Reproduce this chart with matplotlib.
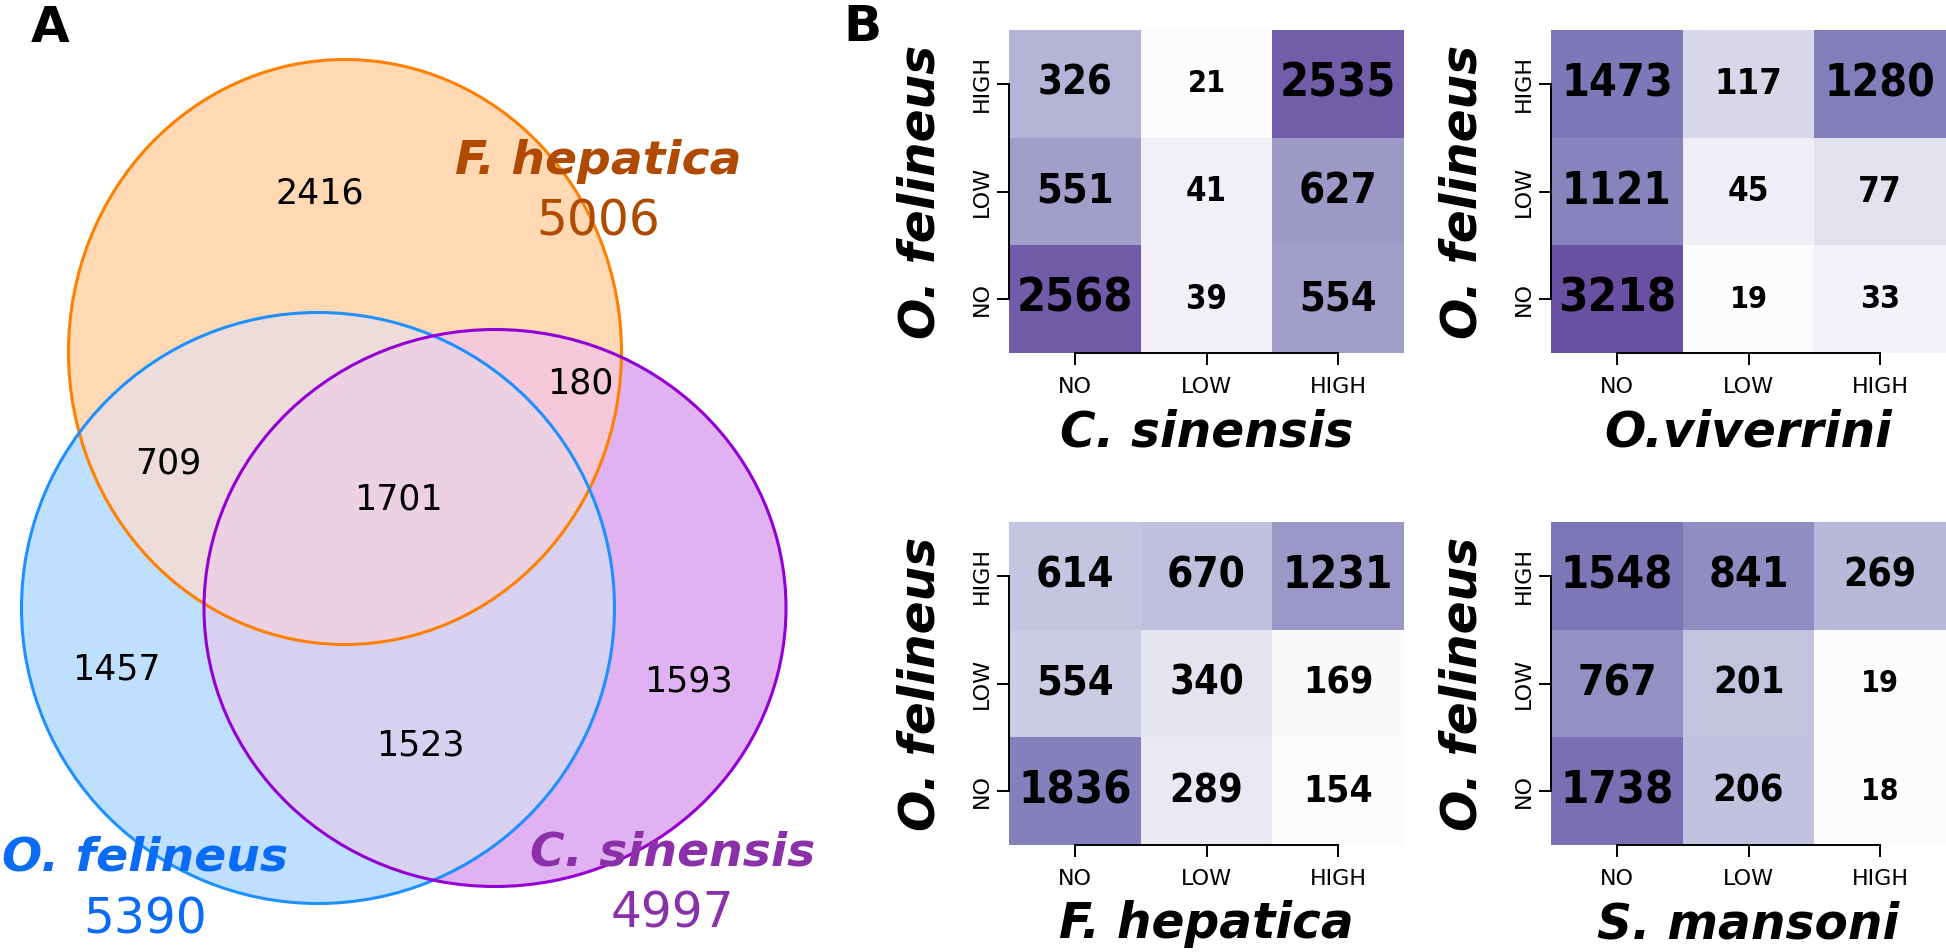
import numpy as np
import matplotlib
matplotlib.use("Agg")
import matplotlib.pyplot as plt
from matplotlib.patches import Ellipse, Polygon
from matplotlib.colors import LogNorm, ListedColormap
from matplotlib import font_manager

# panel A: venn counts
set_keys = ["F", "O", "C"]
set_names = ["F. hepatica", "O. felineus", "C. sinensis"]
set_totals = [5006, 5390, 4997]
region_keys = ["F", "O", "C", "FO", "FC", "OC", "FOC"]
region_counts = [2416, 1457, 1593, 709, 180, 1523, 1701]

# panel B: O. felineus level (rows NO, LOW, HIGH) vs other species (cols NO, LOW, HIGH)
levels = ["NO", "LOW", "HIGH"]
species = ["C. sinensis", "O.viverrini", "F. hepatica", "S. mansoni"]
csin = [[2568, 39, 554], [551, 41, 627], [326, 21, 2535]]
oviv = [[3218, 19, 33], [1121, 45, 77], [1473, 117, 1280]]
fhep = [[1836, 289, 154], [554, 340, 169], [614, 670, 1231]]
sman = [[1738, 206, 18], [767, 201, 19], [1548, 841, 269]]

W, H = 1946, 952
fig = plt.figure(figsize=(W / 100, H / 100), dpi=100)

# ---------------- venn (pixel coordinates) ----------------
ax = fig.add_axes([0, 0, 800 / W, 1])
ax.set_xlim(0, 800)
ax.set_ylim(H, 0)
ax.axis("off")

ell = {"F": (345, 352, 553, 585), "O": (318, 608, 593, 591), "C": (495, 608, 582, 557)}
edge_col = {"F": "#ff8000", "O": "#1e90ff", "C": "#9400d3"}
text_col = {"F": "#b04a00", "O": "#0a6cf5", "C": "#8a30a8"}
fill_col = {"F": "#ffd9b3", "O": "#bfdfff", "C": "#e0b2f2", "FO": "#eedcda",
            "FC": "#f5c9d9", "OC": "#d8d0f0", "FOC": "#ecd1e3"}


def inside(k, x, y):
    cx, cy, w, h = ell[k]
    return ((x - cx) / (w / 2)) ** 2 + ((y - cy) / (h / 2)) ** 2 <= 1 + 1e-9


def overlap(keys, n=1500):
    xs, ys = [], []
    t = np.linspace(0, 2 * np.pi, n, endpoint=False)
    for k in keys:
        cx, cy, w, h = ell[k]
        xs.append(cx + w / 2 * np.cos(t))
        ys.append(cy + h / 2 * np.sin(t))
    x = np.concatenate(xs)
    y = np.concatenate(ys)
    keep = np.ones_like(x, dtype=bool)
    for k in keys:
        keep &= inside(k, x, y)
    x, y = x[keep], y[keep]
    order = np.argsort(np.arctan2(y - y.mean(), x - x.mean()))
    return np.column_stack([x[order], y[order]])


for k in set_keys:
    cx, cy, w, h = ell[k]
    ax.add_patch(Ellipse((cx, cy), w, h, facecolor=fill_col[k], edgecolor="none"))
for k in ["FO", "FC", "OC", "FOC"]:
    ax.add_patch(Polygon(overlap(list(k)), closed=True, facecolor=fill_col[k],
                         edgecolor="none"))
for k in set_keys:
    cx, cy, w, h = ell[k]
    ax.add_patch(Ellipse((cx, cy), w, h, fill=False, edgecolor=edge_col[k], lw=2.2))

region_pos = {"F": (320, 193), "FC": (580, 383), "FO": (168, 463), "FOC": (398, 499),
              "O": (116, 670), "C": (688, 682), "OC": (420, 746)}
for k, c in zip(region_keys, region_counts):
    ax.text(*region_pos[k], str(c), ha="center", va="center", fontsize=25)

name_pos = {"F": (598, 162), "O": (145, 858), "C": (673, 853)}
total_pos = {"F": (598, 222), "O": (145, 920), "C": (672, 914)}
for k, name, tot in zip(set_keys, set_names, set_totals):
    ax.text(*name_pos[k], name, ha="center", va="center", fontsize=34,
            fontweight="bold", fontstyle="italic", color=text_col[k])
    ax.text(*total_pos[k], str(tot), ha="center", va="center", fontsize=35,
            color=text_col[k])

fig.text(50 / W, 1 - 28 / H, "A", ha="center", va="center", fontsize=36, fontweight="bold")
fig.text(862 / W, 1 - 27 / H, "B", ha="center", va="center", fontsize=36, fontweight="bold")

# ---------------- heatmaps ----------------
fonts = font_manager.fontManager.ttflist
if any(f.name == "Liberation Sans Narrow" for f in fonts):
    num_font, num_stretch, num_scale = "Liberation Sans Narrow", "normal", 1.0
elif any(f.name == "DejaVu Sans" and f.stretch == "condensed" and f.weight == 700
         for f in fonts):
    num_font, num_stretch, num_scale = "DejaVu Sans", "condensed", 0.92
else:
    num_font, num_stretch, num_scale = "DejaVu Sans", "normal", 0.8

mats = [np.array(m) for m in (csin, oviv, fhep, sman)]
gmax = max(m.max() for m in mats)
cmap = ListedColormap(plt.cm.Purples(np.linspace(0, 0.75, 256)))
corners = [(1009, 30), (1551, 30), (1009, 522), (1551, 522)]
aw, ah = 395, 323

for m, sp, (x0, y0) in zip(mats, species, corners):
    hx = fig.add_axes([x0 / W, 1 - (y0 + ah) / H, aw / W, ah / H])
    hx.pcolormesh(np.arange(4), np.arange(4), m, cmap=cmap,
                  norm=LogNorm(vmin=m.min(), vmax=gmax))
    hx.set_xlim(0, 3)
    hx.set_ylim(0, 3)
    for i in range(3):
        for j in range(3):
            v = m[i, j]
            hx.text(j + 0.5, i + 0.5, str(v), ha="center", va="center",
                    fontsize=(16 + 2.6 * np.log(v)) * num_scale,
                    fontweight="bold", family=num_font, fontstretch=num_stretch)
    hx.set_xticks([0.5, 1.5, 2.5])
    hx.set_xticklabels(levels)
    hx.set_yticks([0.5, 1.5, 2.5])
    hx.set_yticklabels(levels, rotation=90, va="center")
    hx.tick_params(length=8.6, width=1.4, labelsize=16)
    hx.tick_params(axis="x", pad=9)
    hx.tick_params(axis="y", pad=4)
    for s in ["top", "right"]:
        hx.spines[s].set_visible(False)
    for s in ["left", "bottom"]:
        hx.spines[s].set_linewidth(1.4)
        hx.spines[s].set_bounds(0.5, 2.5)
    hx.set_xlabel(sp, fontsize=35, fontweight="bold", fontstyle="italic", va="center")
    hx.xaxis.set_label_coords(0.5, -0.245)
    hx.set_ylabel("O. felineus", fontsize=35, fontweight="bold", fontstyle="italic",
                  va="center", ha="center")
    hx.yaxis.set_label_coords(-0.223, 0.5)

fig.savefig("out.png", dpi=100)
